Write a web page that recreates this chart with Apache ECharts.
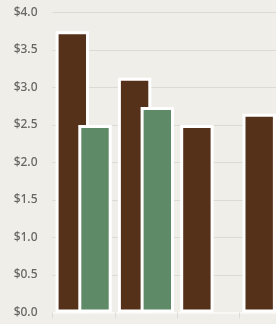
<!DOCTYPE html>
<html>
<head>
<meta charset="utf-8">
<script src="https://cdn.jsdelivr.net/npm/echarts@6/dist/echarts.min.js"></script>
<style>
  html, body { margin: 0; padding: 0; background: #efeee9; }
  #main { width: 276px; height: 324px; }
</style>
</head>
<body>
<div id="main"></div>
<script>
// 类目
var categories = ['A', 'B', 'C', 'D'];
// 棕色系列
var brownValues = [3.75, 3.13, 2.5, 2.65];
// 绿色系列 (第三、四组没有)
var greenValues = [2.5, 2.74, null, null];
// y轴刻度
var yMin = 0;
var yMax = 4;
var yStep = 0.5;

var myChart = echarts.init(document.getElementById('main'));
var option = {
  backgroundColor: '#efeee9',
  animation: false,
  grid: {
    left: 52.5,
    top: 12.5,
    bottom: 11.5,
    width: 249.2,
    outerBoundsMode: 'none'
  },
  xAxis: {
    type: 'category',
    data: categories,
    axisLine: { lineStyle: { color: '#f8f7f3', width: 2 } },
    axisTick: { show: true, length: 6, lineStyle: { color: '#dedcd6' } },
    axisLabel: { show: false }
  },
  yAxis: {
    type: 'value',
    min: yMin,
    max: yMax,
    interval: yStep,
    axisLine: { show: false },
    axisTick: { show: false },
    splitLine: { lineStyle: { color: '#dcdad4', width: 1 } },
    axisLabel: {
      color: '#666662',
      fontFamily: 'Noto Sans',
      fontWeight: 500,
      fontSize: 12,
      margin: 15,
      formatter: function (v) { return '$' + v.toFixed(1); }
    }
  },
  series: [
    {
      type: 'bar',
      data: brownValues,
      barWidth: 33.4,
      barGap: '-32%',
      itemStyle: { color: '#55311a', borderColor: '#ffffff', borderWidth: 3 }
    },
    {
      type: 'bar',
      data: greenValues,
      barWidth: 33.4,
      itemStyle: { color: '#5e8a68', borderColor: '#ffffff', borderWidth: 3 }
    }
  ]
};
myChart.setOption(option);
</script>
</body>
</html>
